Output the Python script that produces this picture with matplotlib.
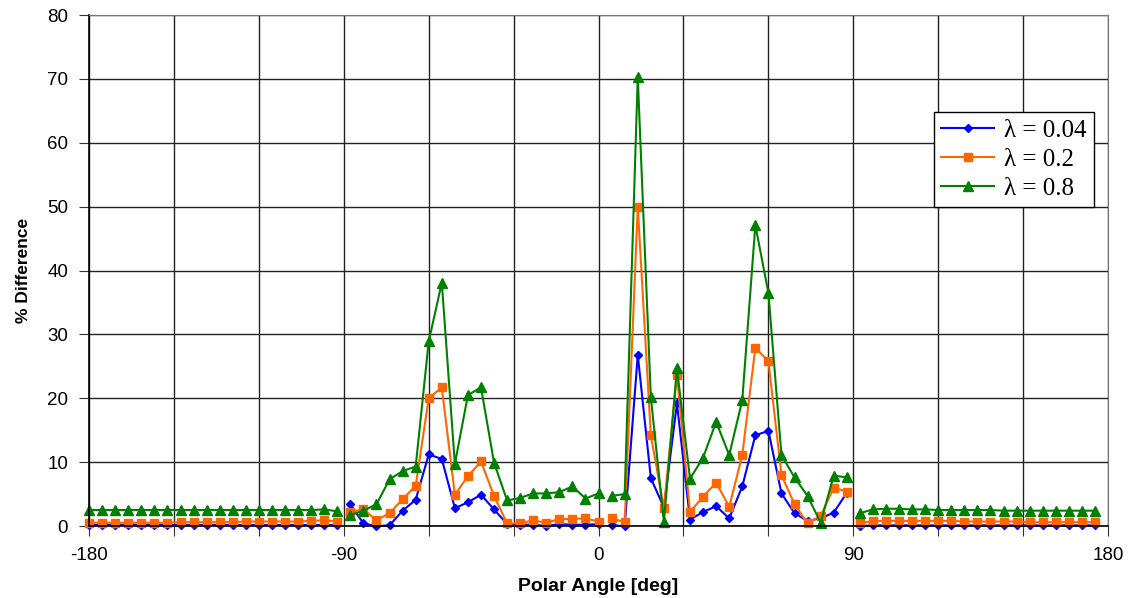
import numpy as np
import matplotlib
matplotlib.use("Agg")
import matplotlib.pyplot as plt

plt.rcParams['font.family'] = ['Liberation Sans', 'DejaVu Sans']

# 78 angular bins, -180 .. 175.4 deg
angle = -180 + np.arange(78) * 360.0 / 78

lam_004 = [0.1] * 20 + [
    3.4, 0.4, 0.0, 0.1, 2.4, 4.1, 11.2, 10.5, 2.8, 3.7,
    4.9, 2.6, 0.3, 0.2, 0.2, 0.0, 0.3, 0.2, 0.2, 0.3,
    0.1, 0.0, 26.8, 7.5, 2.9, 19.2, 1.0, 2.2, 3.1, 1.2,
    6.2, 14.2, 14.9, 5.1, 2.0, 0.8, 1.2, 2.1, 5.2,
    0.0] + [0.1] * 18

lam_02 = [0.5, 0.5, 0.5, 0.5, 0.5, 0.5, 0.5, 0.6, 0.6, 0.6,
          0.6, 0.6, 0.7, 0.7, 0.7, 0.7, 0.7, 0.8, 0.9, 0.7,
          2.2, 2.6, 0.9, 2.0, 4.2, 6.3, 20.0, 21.7, 4.9, 7.8,
          10.1, 4.7, 0.4, 0.4, 0.9, 0.5, 1.1, 1.1, 1.2, 0.7,
          1.2, 0.6, 50.0, 14.2, 2.8, 23.7, 2.2, 4.6, 6.8, 3.0,
          11.1, 27.9, 25.8, 8.0, 3.4, 0.4, 1.6, 6.0, 5.4,
          0.4, 0.8, 0.8, 0.8, 0.8, 0.8, 0.8, 0.8, 0.7, 0.7,
          0.7, 0.7, 0.7, 0.6, 0.6, 0.6, 0.6, 0.6, 0.6]

lam_08 = [2.5, 2.5, 2.5, 2.5, 2.5, 2.5, 2.5, 2.5, 2.5, 2.5,
          2.5, 2.5, 2.5, 2.5, 2.5, 2.5, 2.5, 2.5, 2.6, 2.3,
          1.7, 2.4, 3.4, 7.3, 8.6, 9.3, 28.9, 38.1, 9.7, 20.5,
          21.7, 9.9, 4.0, 4.4, 5.1, 5.1, 5.3, 6.2, 4.3, 5.1,
          4.7, 5.0, 70.3, 20.2, 0.6, 24.7, 7.4, 10.7, 16.3, 11.1,
          19.7, 47.1, 36.5, 11.1, 7.6, 4.7, 0.5, 7.9, 7.6,
          2.0, 2.6, 2.7, 2.7, 2.6, 2.6, 2.5, 2.5, 2.5, 2.5,
          2.5, 2.4, 2.4, 2.4, 2.4, 2.4, 2.4, 2.4, 2.4]

# the curves are drawn per quadrant, with no line across -90, 0 and 90
segments = [(0, 20), (20, 40), (40, 59), (59, 78)]

series = [
    (lam_004, 'λ = 0.04', '#0000FF', 'D', 4.5),
    (lam_02, 'λ = 0.2', '#FF6600', 's', 6),
    (lam_08, 'λ = 0.8', '#008000', '^', 7),
]

fig = plt.figure(figsize=(11.33, 5.98), dpi=100)
ax = fig.add_axes([0.0786, 0.1204, 0.8994, 0.8545])

for vals, label, color, marker, ms in series:
    vals = np.array(vals)
    for i, (a, b) in enumerate(segments):
        ax.plot(angle[a:b], vals[a:b], color=color, marker=marker, markersize=ms,
                linewidth=1.5, clip_on=False, label=label if i == 0 else None)

ax.set_xlim(-180, 180)
ax.set_ylim(0, 80)
ax.set_xticks(np.arange(-180, 181, 30))
ax.set_xticklabels([str(t) if t % 90 == 0 else '' for t in range(-180, 181, 30)])
ax.set_yticks(np.arange(0, 81, 10))
ax.grid(True, color='#222222', linewidth=1.0)
ax.set_axisbelow(True)
ax.tick_params(axis='both', labelsize=13.5, direction='out', length=7, color='#333333')
ax.tick_params(axis='y', pad=8)
ax.tick_params(axis='x', pad=8)
for side in ['top', 'right']:
    ax.spines[side].set_color('#777777')
for side in ['left', 'bottom']:
    ax.spines[side].set_color('black')
    ax.spines[side].set_linewidth(1.2)

ax.set_xlabel('Polar Angle [deg]', fontsize=14, fontweight='bold', labelpad=10)
ax.set_ylabel('% Difference', fontsize=12.5, fontweight='bold', labelpad=12)

leg = ax.legend(loc='upper right', bbox_to_anchor=(0.986, 0.81), borderaxespad=0,
                prop={'family': ['Liberation Serif', 'DejaVu Serif'], 'size': 18},
                frameon=True, fancybox=False, framealpha=1,
                edgecolor='black', handlelength=2.1, borderpad=0.3,
                labelspacing=0.25, handletextpad=0.4)
leg.get_frame().set_linewidth(1.0)

fig.savefig('out.png', dpi=100)
